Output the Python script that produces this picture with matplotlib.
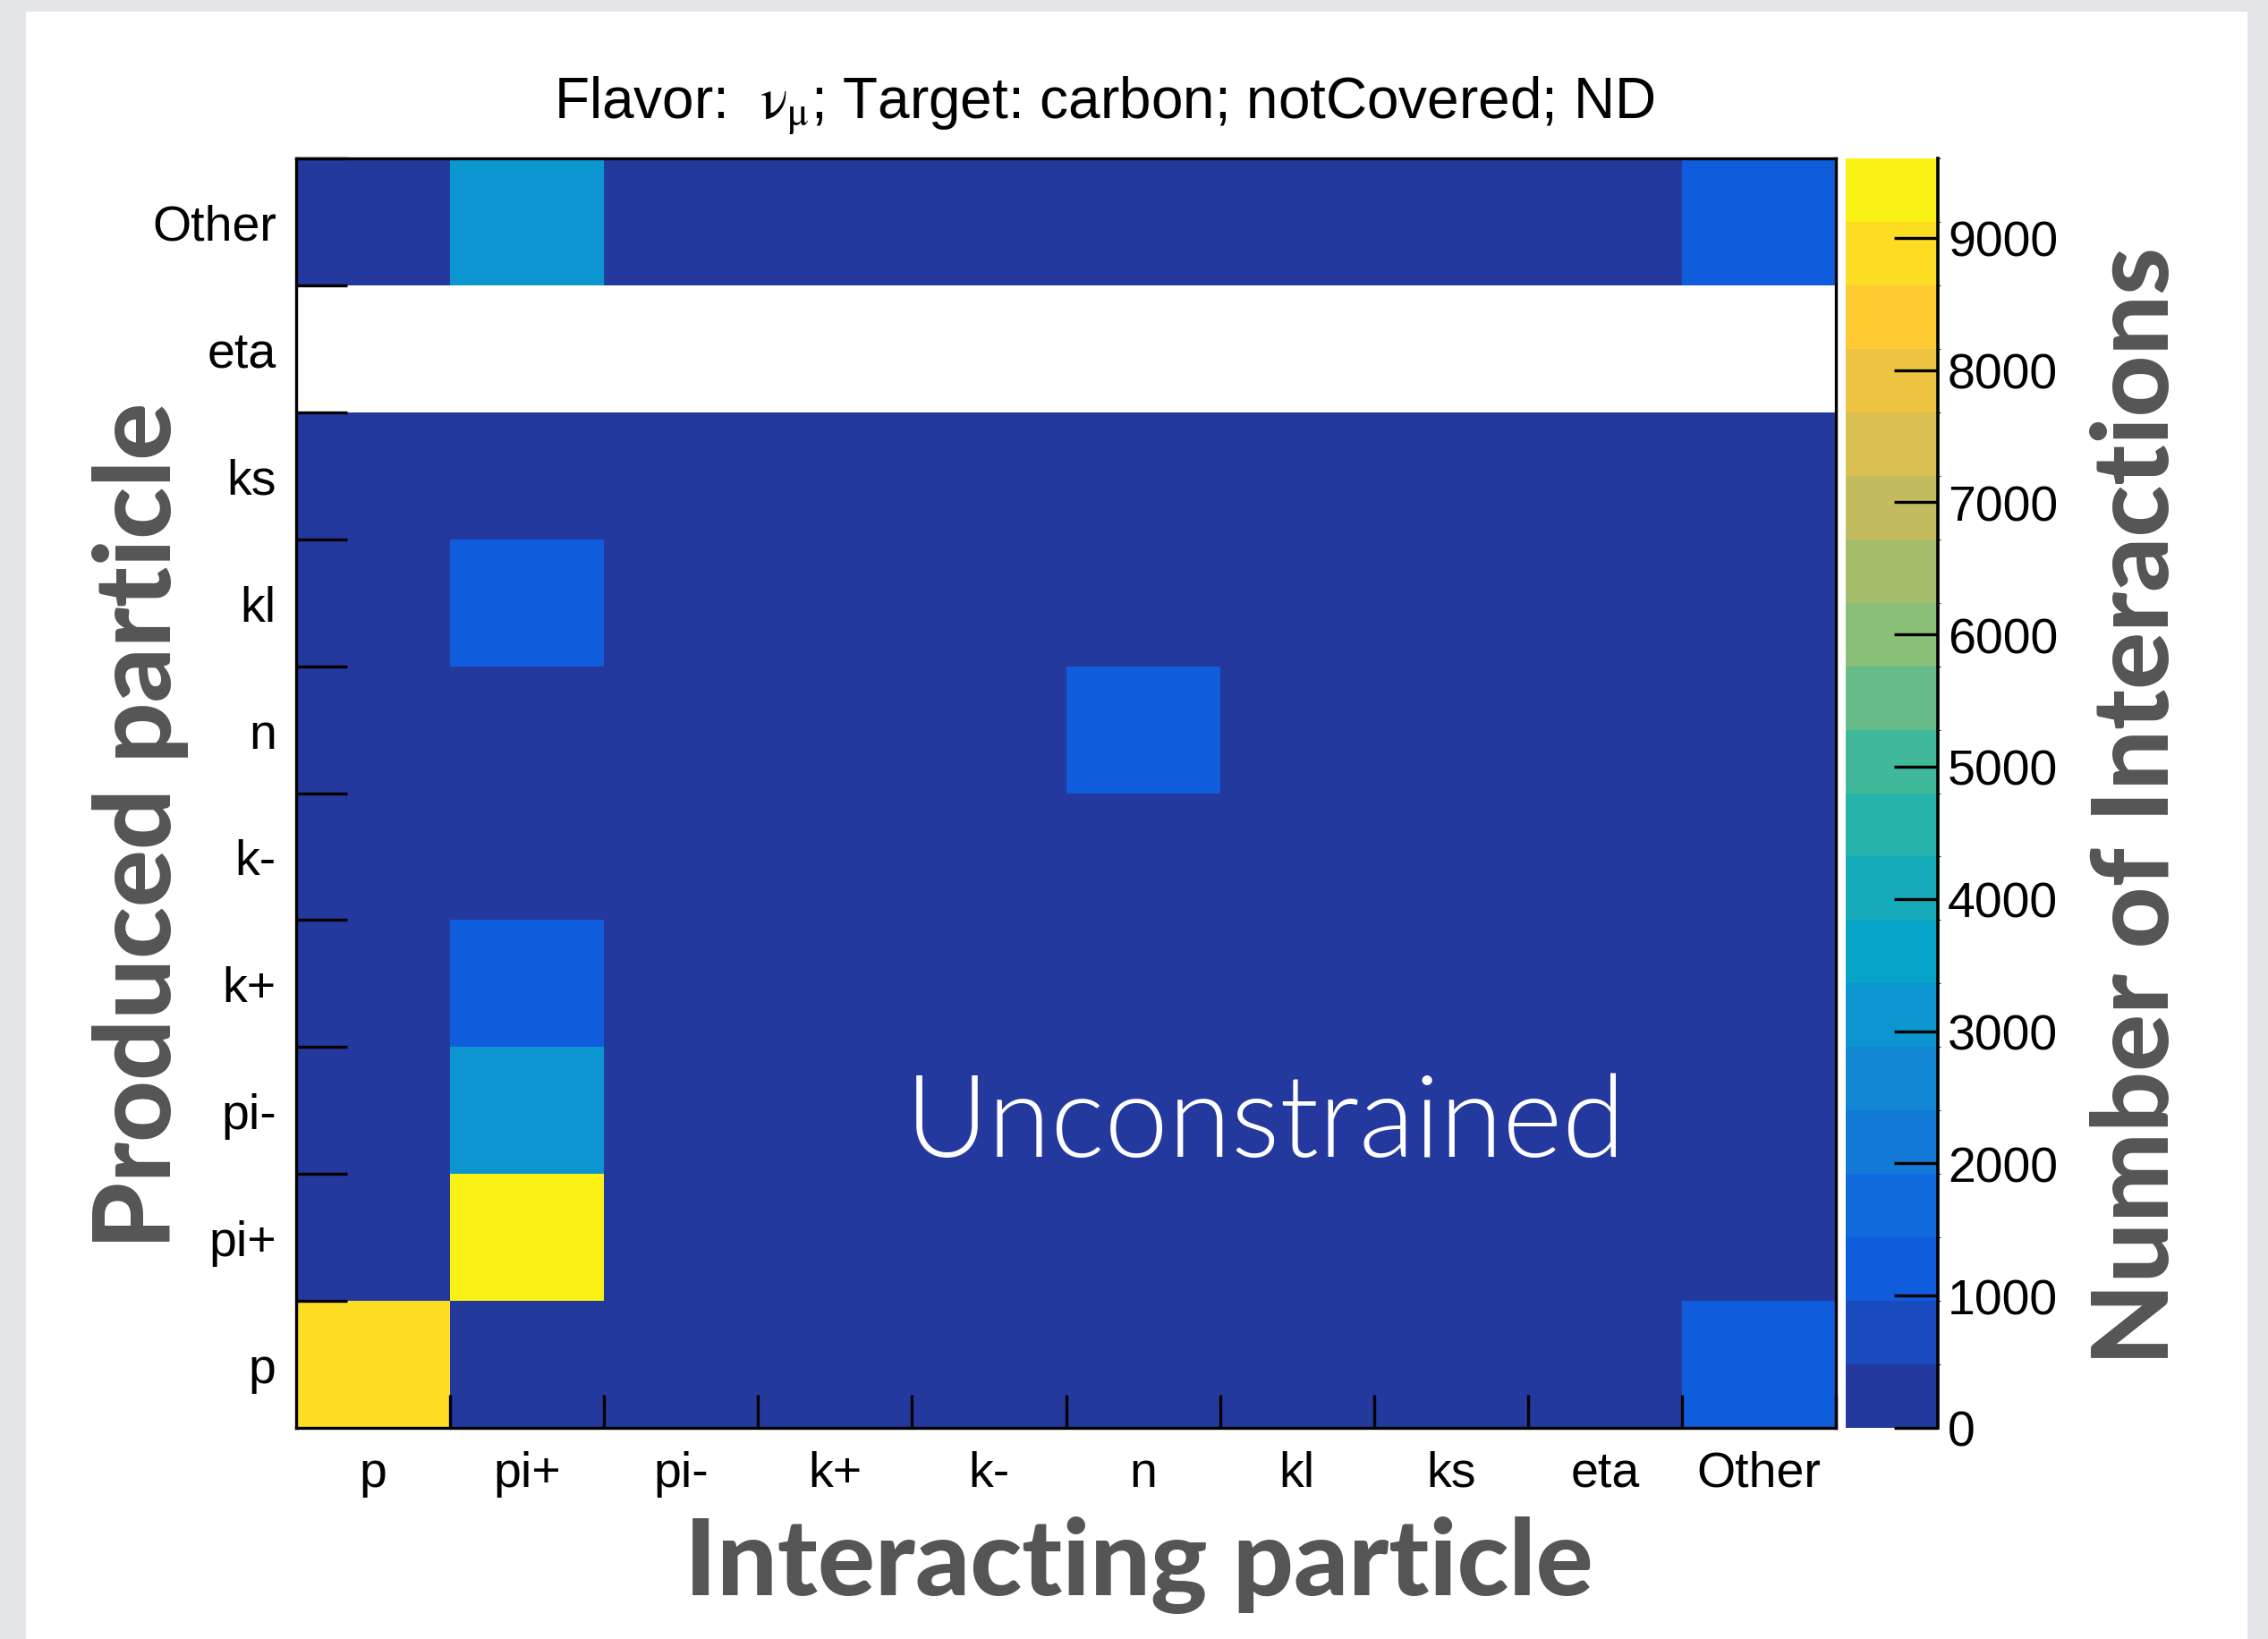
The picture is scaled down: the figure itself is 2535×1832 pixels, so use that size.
import numpy as np
import matplotlib
matplotlib.use("Agg")
import matplotlib.pyplot as plt
from matplotlib.colors import LinearSegmentedColormap, ListedColormap, BoundaryNorm
from matplotlib.patches import Rectangle

# particle categories (same order on both axes, bottom->top / left->right)
particles = ["p", "pi+", "pi-", "k+", "k-", "n", "kl", "ks", "eta", "Other"]

# number of interactions, one list per produced particle (row),
# columns = interacting particle; None = empty bin
row_p     = [8950, 150, 120, 100, 90, 140, 80, 70, 60, 1300]
row_pip   = [200, 9500, 150, 110, 90, 130, 80, 70, 60, 250]
row_pim   = [180, 2950, 140, 100, 90, 120, 80, 70, 60, 220]
row_kp    = [120, 1150, 100, 90, 80, 100, 70, 60, 50, 150]
row_km    = [60, 200, 60, 50, 40, 60, 40, 30, 30, 80]
row_n     = [250, 300, 200, 120, 90, 1200, 90, 80, 70, 300]
row_kl    = [100, 1100, 90, 80, 60, 90, 60, 50, 40, 120]
row_ks    = [90, 250, 80, 70, 50, 80, 50, 40, 40, 110]
row_eta   = [None] * 10
row_other = [300, 3100, 250, 150, 100, 250, 90, 80, 70, 1300]

zmax = 9600
n_levels = 20
cbar_ticks = [0, 1000, 2000, 3000, 4000, 5000, 6000, 7000, 8000, 9000]

title = r"Flavor:  $\mathrm{ν}_{\mathrm{μ}}$; Target: carbon; notCovered; ND"

rows = [row_p, row_pip, row_pim, row_kp, row_km, row_n, row_kl, row_ks, row_eta, row_other]
z = np.array([[np.nan if v is None else v for v in r] for r in rows], dtype=float)
z = np.ma.masked_invalid(z)

# kBird-like palette (bottom made a bit bluer, as on the slide), 20 contour bands
stops = [0.0, 0.125, 0.25, 0.375, 0.5, 0.625, 0.75, 0.875, 1.0]
red = [0.161, 0.0592, 0.0780, 0.0232, 0.1802, 0.5301, 0.8186, 0.9956, 0.9764]
green = [0.194, 0.3599, 0.5041, 0.6419, 0.7178, 0.7492, 0.7328, 0.7862, 0.9832]
blue = [0.563, 0.8684, 0.8385, 0.7914, 0.6425, 0.4662, 0.3499, 0.1968, 0.0539]
bird = LinearSegmentedColormap.from_list("bird", list(zip(stops, zip(red, green, blue))))
cmap = ListedColormap(bird((np.arange(n_levels) + 0.5) / n_levels))
cmap.set_bad("white")
bounds = np.linspace(0, zmax, n_levels + 1)
norm = BoundaryNorm(bounds, n_levels)

plt.rcParams["font.family"] = ["Liberation Sans", "DejaVu Sans"]
plt.rcParams["mathtext.fontset"] = "stix"

W, H = 2535, 1833
fig = plt.figure(figsize=(W / 100, H / 100), dpi=100, facecolor="#e4e5e8")
fig.patches.append(Rectangle((29 / W, 0), (2512 - 29) / W, (H - 14) / H,
                             transform=fig.transFigure, facecolor="white",
                             edgecolor="none", zorder=-10))

def fx(px):
    return px / W

def fy(py):
    return 1 - py / H

ax = fig.add_axes([fx(331), fy(1597), fx(2052) - fx(331), fy(178) - fy(1597)])
ax.set_facecolor("white")
mesh = ax.pcolormesh(np.arange(11), np.arange(11), z, cmap=cmap, norm=norm)
ax.set_xlim(0, 10)
ax.set_ylim(0, 10)

centers = np.arange(10) + 0.5
ax.set_xticks(centers)
ax.set_xticklabels(particles)
ax.set_yticks(centers)
ax.set_yticklabels(particles)
ax.tick_params(axis="both", which="major", length=0, labelsize=40)
ax.tick_params(axis="x", which="major", pad=18)
ax.tick_params(axis="y", which="major", pad=16)
ax.set_xticks(np.arange(1, 11), minor=True)
ax.set_yticks(np.arange(1, 11), minor=True)
ax.tick_params(axis="x", which="minor", direction="in", length=27, width=2.4, bottom=True)
ax.tick_params(axis="y", which="minor", direction="in", length=41, width=2.4, left=True)
for s in ax.spines.values():
    s.set_linewidth(2.4)
    s.set_zorder(5)

# colour bar
cax = fig.add_axes([fx(2063), fy(1597), fx(2166) - fx(2063), fy(178) - fy(1597)])
cb = fig.colorbar(mesh, cax=cax, ticks=cbar_ticks)
cb.outline.set_visible(False)
cax.plot([1, 1], [0, 1], transform=cax.transAxes, color="black", lw=2.6, clip_on=False)
cax.yaxis.set_ticks_position("right")
cax.tick_params(axis="y", direction="in", length=35, width=2.4, labelsize=40, pad=8)
cax.set_yticklabels([str(t) for t in cbar_ticks])

# texts
fig.text(fx(1234), fy(118), title, ha="center", va="center", fontsize=46)
label_font = dict(family=["Lato", "DejaVu Sans"], weight="black", color="#555555")
fig.text(fx(1273), fy(1750), "Interacting particle", ha="center", va="center",
         fontsize=86, **label_font)
fig.text(fx(157), fy(923), "Produced particle", ha="center", va="center",
         rotation=90, fontsize=86, **label_font)
fig.text(fx(2390), fy(901), "Number of Interactions", ha="center", va="center",
         rotation=90, fontsize=86, **label_font)
fig.text(fx(1415), fy(1258), "Unconstrained", ha="center", va="center",
         fontsize=92, color="white", family=["Lato", "DejaVu Sans"], weight=300)

fig.savefig("out.png", dpi=100, facecolor=fig.get_facecolor())
